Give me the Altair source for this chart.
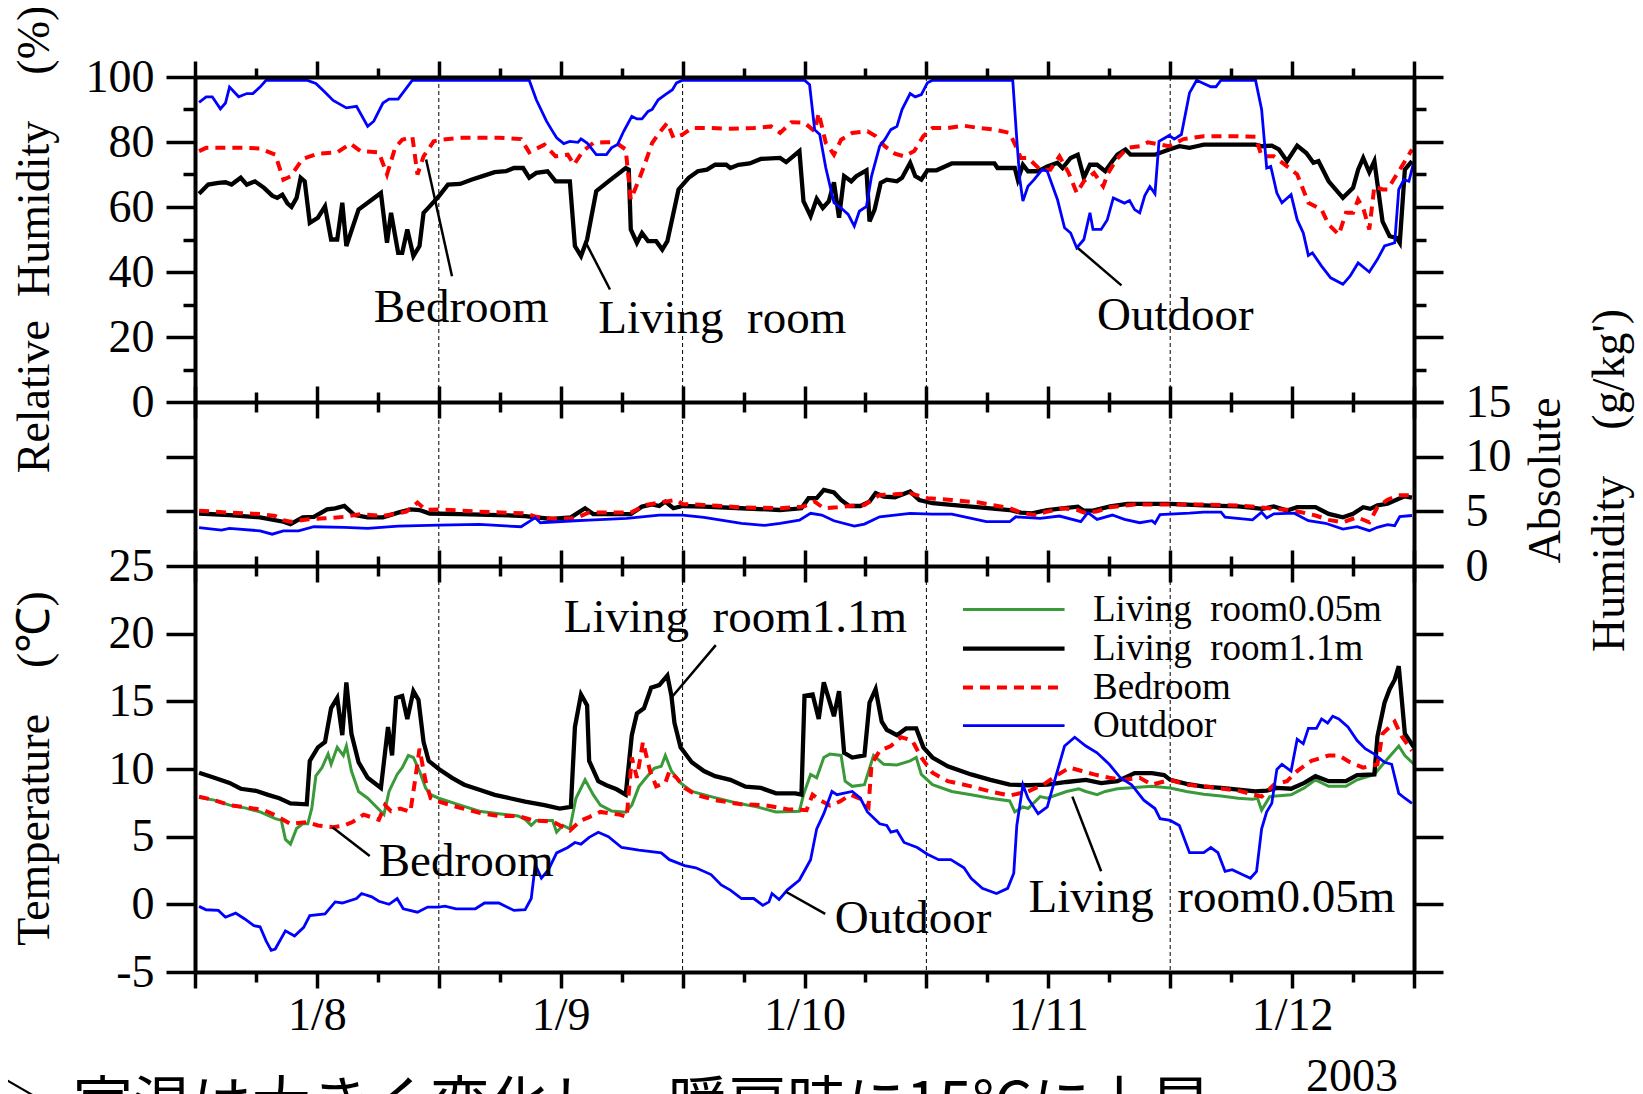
import json
import altair as alt
import pandas as pd

# ---------------- data ----------------
DAY_LABELS = ["1/8", "1/9", "1/10", "1/11", "1/12"]
MIDNIGHTS = [24, 48, 72, 96]
X_MAJOR = list(range(0, 121, 12))
X_MINOR = list(range(6, 120, 12))
RH_MAJOR = [0, 20, 40, 60, 80, 100]
RH_MINOR = [10, 30, 50, 70, 90]
AH_LEFT = [5, 10]
AH_RIGHT = [0, 5, 10, 15]
T_TICKS = [-5, 0, 5, 10, 15, 20, 25]

SERIES = ["Living\u2002room0.05m", "Living\u2002room1.1m", "Bedroom", "Outdoor"]

# Temperature (hour from 1/8 0:00, degC)
T_LR005 = [(0.4,7.9),(1.9,7.7),(3.4,7.33),(4.9,7.13),(6.4,6.83),(7.9,6.33),(8.5,6.2),(8.9,4.8),(9.4,4.45),(10.0,5.6),
 (10.6,5.95),(11.1,5.95),(11.5,7.1),(11.9,9.5),(12.5,10.1),(13.1,11.1),(13.4,10.35),(14.0,11.6),(14.6,11.0),(14.9,11.7),
 (15.4,9.85),(16.1,8.34),(17.0,7.84),(18.6,6.63),(19.1,8.34),(19.9,9.6),(20.4,10.1),(21.0,11.0),(21.5,10.85),(22.1,9.85),
 (22.7,8.6),(23.2,8.1),(24.0,7.84),(26.1,7.33),(28.0,6.88),(29.9,6.7),(31.8,6.53),(32.5,6.28),(33.1,5.83),(33.6,6.2),
 (35.2,6.2),(35.6,5.33),(36.2,5.83),(36.9,5.58),(37.5,7.84),(38.4,9.2),(39.2,8.1),(39.9,7.33),(41.0,6.9),(42.4,6.8),
 (43.0,7.33),(43.7,8.7),(44.4,9.35),(45.2,10.05),(45.9,10.2),(46.3,11.0),(46.9,9.85),(47.8,8.97),(48.9,8.34),(50.8,7.96),
 (53.1,7.53),(55.3,7.2),(57.2,6.83),(59.5,6.88),(59.9,8.1),(60.6,9.6),(61.2,9.35),(61.9,10.85),(62.5,11.1),(63.6,11.0),
 (64.0,9.1),(64.7,8.72),(65.9,8.84),(66.8,11.0),(67.8,10.35),(69.1,10.3),(70.4,10.6),(71.0,10.85),(71.5,9.6),(72.6,8.84),
 (74.5,8.34),(76.4,8.1),(78.3,7.84),(80.2,7.64),(80.7,6.83),(81.5,7.2),(82.0,7.08),(83.2,7.96),(83.9,7.84),(85.8,8.34),
 (87.0,8.54),(87.7,8.34),(88.8,8.1),(89.6,8.34),(90.8,8.54),(92.5,8.64),(94.2,8.72),(96.0,8.6),(97.6,8.34),(99.3,8.14),
 (101.0,8.01),(102.7,7.84),(104.1,7.76),(104.6,7.84),(105.0,6.96),(105.8,7.96),(107.9,8.1),(109.2,8.6),(110.3,9.2),(111.6,8.72),
 (113.3,8.72),(114.4,9.2),(116.1,9.6),(117.1,10.5),(118.5,11.7),(119.1,11.0),(120.0,10.35)]

T_LR11 = [(0.4,9.72),(1.9,9.35),(3.4,8.97),(4.5,8.54),(6.0,8.39),(7.2,8.09),(8.3,7.84),(9.4,7.46),(11.0,7.39),(11.3,10.6),
 (12.1,11.6),(12.8,12.0),(13.4,14.5),(14.0,15.25),(14.5,12.5),(14.9,16.4),(15.4,12.6),(16.1,10.5),(17.0,9.35),(18.3,8.6),
 (19.0,13.1),(19.4,11.0),(19.8,15.25),(20.4,15.4),(20.9,13.7),(21.5,15.75),(22.0,15.1),(22.5,12.0),(23.0,10.6),(24.0,10.0),
 (25.3,9.35),(26.5,8.84),(28.0,8.47),(29.5,8.09),(31.0,7.84),(32.5,7.59),(34.4,7.33),(35.9,7.08),(37.0,7.2),(37.4,13.1),
 (38.0,15.5),(38.6,14.7),(38.8,10.6),(39.7,9.1),(40.5,8.8),(41.5,8.5),(42.4,8.1),(43.0,12.5),(43.5,14.1),(44.2,14.5),
 (44.9,16.0),(45.7,16.2),(46.5,16.9),(46.9,15.4),(47.2,13.4),(47.8,11.6),(48.9,10.5),(50.1,9.85),(51.2,9.47),(52.7,9.2),
 (54.2,8.7),(55.7,8.6),(57.2,8.2),(59.1,8.2),(59.7,8.1),(60.0,15.4),(60.8,15.5),(61.4,13.7),(61.9,16.4),(62.9,13.9),
 (63.4,15.75),(63.9,11.2),(64.7,10.85),(65.9,11.0),(66.4,14.9),(67.0,15.9),(67.6,13.5),(68.1,12.9),(69.1,12.5),(70.0,13.0),
 (71.0,13.0),(71.7,11.6),(72.6,10.85),(74.1,10.2),(76.4,9.6),(78.3,9.2),(80.2,8.84),(82.0,8.8),(83.9,8.84),(85.8,9.04),
 (87.7,9.2),(89.2,8.96),(90.8,9.1),(92.5,9.7),(94.2,9.7),(95.4,9.55),(96.0,9.2),(97.6,8.9),(99.3,8.7),(101.0,8.6),
 (102.7,8.47),(104.4,8.34),(105.5,8.4),(106.5,8.6),(107.9,8.54),(109.2,8.97),(110.3,9.47),(111.6,9.1),(113.3,9.1),(114.4,9.55),
 (116.1,9.6),(116.4,12.4),(117.1,14.9),(117.6,15.9),(118.1,16.6),(118.5,17.6),(119.1,12.6),(120.0,11.6)]

T_BED = [(0.4,7.96),(1.9,7.7),(3.4,7.33),(5.3,7.13),(6.8,6.96),(7.9,6.58),(9.4,5.95),(11.0,6.08),(12.1,5.83),(13.6,5.7),
 (14.7,5.83),(15.5,6.08),(16.6,6.63),(18.1,6.25),(18.7,7.33),(19.3,6.88),(20.2,7.08),(21.2,6.83),(21.7,9.35),(22.1,11.5),
 (22.7,9.1),(23.2,7.84),(24.0,7.59),(26.1,7.13),(28.0,6.76),(29.9,6.53),(31.8,6.53),(33.3,6.2),(35.2,6.13),(36.9,5.45),
 (38.0,6.2),(38.8,6.45),(39.9,6.83),(41.8,6.63),(42.5,6.45),(43.0,10.85),(43.5,9.35),(44.1,12.0),(44.8,9.85),(45.4,8.72),
 (46.3,8.97),(46.7,9.85),(47.4,9.35),(48.2,8.6),(49.3,8.1),(51.2,7.7),(53.8,7.39),(56.1,7.33),(58.3,7.03),(60.2,6.96),
 (60.8,8.1),(61.5,7.7),(62.5,7.3),(63.5,7.6),(64.5,8.1),(65.5,7.8),(66.3,7.2),(66.6,10.35),(67.4,11.35),(68.5,11.7),
 (69.5,12.35),(70.6,12.1),(71.5,10.85),(72.6,9.72),(74.1,9.1),(76.4,8.72),(78.3,8.34),(80.2,8.04),(82.0,8.34),(83.5,8.84),
 (85.0,9.6),(86.1,10.1),(87.3,9.85),(88.5,9.6),(90.0,9.35),(91.5,9.2),(93.0,9.35),(94.2,8.84),(96.0,9.2),(97.6,8.84),
 (99.3,8.72),(102.7,8.4),(105.0,7.96),(106.2,8.84),(107.5,9.1),(108.5,9.85),(109.9,10.6),(111.6,11.0),(112.6,11.0),(113.7,10.5),
 (115.0,10.1),(116.4,10.35),(116.9,12.6),(117.6,13.1),(118.1,13.5),(118.8,12.4),(119.8,11.35)]

T_OUT = [(0.4,-0.15),(1.1,-0.4),(2.3,-0.45),(3.0,-0.95),(4.0,-0.65),(4.9,-1.08),(5.8,-1.58),(6.4,-1.66),(7.0,-2.7),(7.5,-3.4),
 (7.9,-3.3),(8.9,-1.96),(9.8,-2.34),(10.7,-1.7),(11.3,-0.83),(12.8,-0.7),(13.8,0.18),(14.5,0.1),(15.9,0.43),(16.4,0.8),
 (17.4,0.55),(18.1,0.23),(19.1,0.0),(19.9,0.43),(20.5,-0.33),(21.9,-0.58),(22.9,-0.2),(24.0,-0.2),(24.6,-0.13),(25.7,-0.33),
 (27.6,-0.33),(28.5,0.1),(29.9,0.1),(31.4,-0.45),(32.5,-0.4),(33.1,0.43),(33.5,2.94),(34.1,1.93),(34.8,2.56),(35.6,3.8),
 (36.7,4.2),(37.4,4.57),(38.0,4.45),(38.8,4.95),(39.7,5.33),(40.7,5.0),(42.0,4.2),(43.7,4.0),(45.9,3.8),(46.7,3.3),
 (48.2,2.86),(49.3,2.7),(50.8,2.2),(51.8,1.43),(52.7,1.05),(53.8,0.43),(55.0,0.43),(55.9,-0.08),(56.5,0.18),(56.8,0.8),
 (57.5,0.35),(58.3,1.05),(59.5,1.8),(60.6,3.3),(61.2,5.58),(61.9,6.7),(62.7,8.34),(63.2,8.1),(64.7,8.34),(65.5,7.84),
 (66.2,6.83),(67.4,5.95),(68.1,5.83),(68.5,5.33),(69.1,5.45),(69.8,4.57),(71.1,4.2),(72.1,3.7),(73.2,3.3),(74.4,3.3),
 (75.7,2.7),(76.4,1.93),(77.5,1.18),(78.9,0.8),(80.0,1.18),(80.6,2.3),(80.9,5.83),(81.5,8.84),(82.0,7.84),(83.0,6.7),
 (83.9,7.2),(84.7,9.35),(85.6,11.7),(86.6,12.35),(87.7,11.7),(88.8,11.2),(90.0,10.35),(91.1,9.35),(92.2,8.84),(93.4,7.7),
 (94.5,7.08),(95.0,6.33),(96.0,6.2),(96.9,5.83),(97.9,3.82),(99.3,3.82),(100.0,4.2),(100.7,3.82),(101.4,2.44),(102.1,2.56),
 (103.1,2.2),(103.9,1.93),(104.5,2.44),(105.0,5.58),(105.5,6.83),(106.0,7.46),(106.5,9.97),(107.0,10.35),(107.9,9.85),(108.5,12.2),
 (109.1,11.86),(109.6,13.0),(110.4,13.0),(110.9,13.7),(111.5,13.4),(112.0,13.9),(112.6,13.7),(113.5,13.1),(114.4,12.1),(115.2,11.5),
 (116.1,11.1),(117.1,10.5),(117.8,10.35),(118.5,8.2),(119.1,7.84),(119.8,7.46)]

# Relative humidity (%)
RH_LR = [(0.4,64.1),(1.3,66.9),(2.3,67.4),(3.0,67.6),(3.6,66.9),(4.5,69.0),(5.1,66.9),(5.9,67.9),(6.8,65.9),(7.6,63.5),
 (8.1,62.8),(8.6,63.8),(9.1,61.1),(9.5,60.0),(10.0,62.8),(10.4,69.0),(10.8,67.9),(11.3,55.1),(12.1,56.7),(12.8,60.2),
 (13.4,50.0),(14.0,50.0),(14.5,61.3),(14.9,48.0),(16.1,59.2),(18.3,64.3),(18.9,49.0),(19.3,58.2),(20.0,45.9),(20.4,45.9),
 (20.9,53.1),(21.5,44.9),(22.1,48.0),(22.5,58.2),(23.1,60.2),(24.0,63.3),(24.9,66.9),(26.1,67.1),(27.2,68.4),(28.3,69.5),
 (29.5,70.7),(30.6,71.0),(31.4,72.0),(32.3,72.0),(32.9,69.0),(33.6,70.5),(34.7,71.0),(35.5,67.9),(36.9,67.9),(37.4,48.0),
 (38.0,44.9),(38.6,50.0),(39.5,64.9),(40.7,67.9),(42.4,72.0),(42.7,71.5),(42.9,53.1),(43.5,49.0),(44.0,52.0),(44.6,49.5),
 (45.4,49.5),(46.0,46.9),(46.5,49.5),(47.6,65.4),(48.6,69.0),(49.5,71.0),(50.4,71.5),(51.2,73.0),(52.3,73.0),(52.7,72.0),
 (53.5,73.0),(54.6,73.4),(55.7,74.8),(57.6,75.1),(58.2,73.8),(59.5,77.2),(59.9,61.8),(60.6,57.2),(61.2,62.5),(61.8,59.7),
 (62.4,61.8),(62.9,67.6),(63.4,56.7),(63.9,69.5),(64.6,67.9),(65.1,69.5),(66.1,71.3),(66.4,55.6),(66.9,59.2),(67.5,67.4),
 (68.1,68.4),(69.1,67.9),(69.6,69.0),(70.4,73.6),(70.9,69.5),(71.5,68.4),(72.1,71.3),(73.0,71.3),(74.5,73.4),(78.7,73.4),
 (79.0,72.0),(80.7,72.0),(81.0,68.4),(81.5,73.0),(82.0,71.0),(83.0,71.0),(83.9,72.5),(84.9,73.6),(85.4,72.0),(86.2,75.1),
 (86.9,76.1),(87.5,69.0),(88.1,73.0),(88.8,73.0),(89.6,71.0),(90.3,74.1),(90.8,76.1),(91.6,77.7),(92.1,76.1),(94.5,76.1),
 (95.9,77.7),(96.9,78.7),(97.9,78.2),(98.6,78.7),(99.3,79.2),(104.4,79.2),(105.0,78.7),(106.0,78.9),(106.7,77.7),(107.5,74.1),
 (108.5,78.9),(109.4,76.6),(110.1,73.6),(110.6,74.1),(111.6,67.9),(113.0,62.8),(114.0,65.9),(114.5,71.5),(115.0,75.1),(115.6,70.7),
 (116.1,74.1),(116.9,55.6),(117.6,51.0),(118.3,50.5),(118.6,49.0),(119.1,71.5),(119.8,74.1)]

RH_BED = [(0.4,77.2),(1.1,78.2),(2.6,78.2),(4.9,78.2),(6.4,78.0),(7.9,76.1),(8.7,68.4),(9.4,69.4),(10.6,74.8),(12.1,76.4),
 (14.0,76.8),(15.3,79.5),(16.3,77.2),(18.1,76.8),(18.9,70.0),(19.7,78.2),(20.4,80.7),(21.4,81.6),(21.9,70.0),(22.5,75.6),
 (23.5,80.2),(24.2,80.7),(26.1,81.3),(29.9,81.3),(32.1,80.9),(32.9,76.8),(34.4,79.2),(35.5,75.6),(36.7,76.1),(37.3,73.0),
 (38.2,77.2),(39.2,79.7),(40.3,79.9),(41.4,79.9),(42.4,77.7),(42.9,62.3),(43.7,68.4),(44.2,72.5),(45.0,79.7),(45.7,82.8),
 (46.5,85.9),(47.1,81.3),(48.0,82.3),(48.9,84.3),(50.8,84.3),(52.7,84.1),(55.0,84.3),(56.7,84.8),(57.6,82.8),(58.7,86.1),
 (60.0,85.9),(61.0,83.3),(61.4,88.9),(62.1,79.7),(62.9,76.1),(63.6,80.7),(64.7,82.8),(66.2,83.3),(67.0,81.8),(67.9,78.7),
 (68.9,76.4),(69.8,75.6),(70.8,77.2),(71.7,81.8),(72.6,84.3),(74.1,84.3),(75.7,85.0),(77.2,84.3),(78.7,83.8),(80.2,82.8),
 (80.8,78.7),(81.3,75.1),(82.0,75.1),(83.2,71.5),(84.2,71.5),(85.1,75.6),(86.0,70.5),(86.8,64.3),(87.5,67.9),(88.5,70.5),
 (89.4,66.4),(89.9,70.5),(90.7,74.6),(91.8,78.2),(93.0,78.7),(93.8,79.9),(95.9,78.7),(97.3,80.9),(99.3,81.8),(102.1,81.8),
 (104.4,81.6),(105.0,75.6),(106.2,75.6),(107.5,72.5),(108.5,70.0),(109.6,61.3),(110.9,59.2),(111.6,54.6),(112.6,51.5),(113.3,58.2),
 (114.0,58.2),(114.5,62.3),(115.0,59.7),(115.6,53.1),(116.1,66.4),(116.9,65.4),(117.4,65.4),(118.1,69.0),(118.8,72.5),(119.8,77.7)]

RH_OUT = [(0.4,92.2),(1.1,93.9),(1.7,93.9),(2.5,90.2),(3.0,92.0),(3.4,96.9),(4.3,93.9),(5.1,94.9),(5.7,94.9),(6.4,96.9),
 (7.0,99.0),(11.0,99.0),(11.9,98.0),(12.7,95.6),(13.6,92.8),(14.9,90.5),(15.9,91.0),(17.0,84.8),(17.6,86.4),(18.5,92.0),
 (19.1,93.2),(20.0,93.2),(21.4,99.0),(32.9,99.0),(33.6,93.0),(34.6,86.4),(35.1,83.8),(35.6,81.3),(36.3,79.5),(36.9,80.2),
 (37.7,79.9),(38.0,81.0),(38.6,79.7),(39.5,76.1),(40.5,76.1),(41.0,78.2),(41.6,79.2),(42.2,83.3),(43.0,87.9),(43.5,87.1),
 (44.0,87.1),(44.6,89.4),(45.0,90.0),(45.6,93.0),(46.3,94.6),(47.0,96.1),(47.4,98.2),(48.0,99.0),(60.0,99.0),(60.5,97.6),
 (61.0,83.8),(61.5,82.3),(62.1,72.0),(62.9,61.3),(63.6,59.7),(64.3,57.7),(64.9,54.1),(65.4,58.7),(66.1,60.2),(66.6,69.5),
 (67.4,78.7),(67.9,80.7),(68.5,83.8),(69.1,84.8),(69.6,90.0),(70.4,94.9),(70.9,93.9),(71.5,94.6),(72.1,98.2),(72.6,99.0),
 (80.5,99.0),(80.9,80.7),(81.2,68.4),(81.5,61.8),(82.0,66.4),(82.6,68.4),(83.4,71.5),(83.9,71.0),(84.9,62.3),(85.6,53.6),
 (86.2,52.0),(86.8,47.4),(87.5,50.0),(88.1,58.2),(88.4,53.1),(89.2,53.1),(89.8,56.0),(90.4,62.8),(91.5,61.2),(92.0,62.0),
 (92.5,59.2),(93.0,58.2),(93.5,63.5),(94.0,66.3),(94.5,64.1),(94.9,80.2),(95.9,82.0),(96.4,80.9),(97.1,82.3),(97.9,95.1),
 (98.6,99.0),(100.0,97.0),(100.5,97.0),(101.0,99.0),(104.4,99.0),(105.0,90.0),(105.5,72.0),(105.9,72.5),(106.5,64.3),(107.0,61.3),
 (107.9,63.8),(108.5,56.1),(109.1,52.0),(109.6,45.1),(110.0,45.9),(110.9,41.8),(111.8,38.2),(113.0,36.2),(113.7,38.7),(114.5,42.8),
 (115.6,40.0),(116.4,43.9),(117.1,48.0),(118.1,49.0),(118.5,65.4),(119.0,68.4),(119.5,67.9),(120.0,74.1)]

# Absolute humidity (g/kg')
AH_LR = [(0.4,4.8),(3.4,4.66),(6.4,4.45),(8.7,4.05),(9.4,3.83),(10.6,4.45),(11.7,4.5),(13.0,5.18),(13.8,5.28),(14.7,5.49),
 (15.7,4.66),(17.0,4.45),(18.5,4.45),(20.0,4.88),(21.2,5.18),(22.1,5.12),(23.1,4.8),(26.1,4.75),(29.9,4.66),(32.5,4.57),
 (33.6,4.45),(35.1,4.3),(37.0,4.45),(38.4,5.28),(39.2,4.75),(42.9,4.75),(44.0,5.43),(45.0,5.64),(45.7,5.49),(46.3,5.89),
 (47.1,5.28),(48.0,5.49),(50.1,5.43),(53.8,5.28),(57.6,5.12),(59.7,5.28),(60.4,6.2),(61.2,6.2),(61.9,6.96),(62.9,6.72),
 (63.6,6.04),(64.4,5.49),(65.5,5.49),(66.4,5.89),(67.0,6.66),(67.8,6.35),(68.9,6.29),(70.4,6.81),(71.3,6.04),(72.6,5.74),
 (76.4,5.43),(80.2,5.12),(81.3,4.88),(82.4,4.82),(83.9,5.12),(85.4,5.28),(86.9,5.43),(87.5,5.06),(88.4,5.06),(90.1,5.45),
 (91.8,5.69),(96.0,5.69),(99.3,5.54),(102.7,5.45),(105.1,5.23),(106.2,5.45),(107.5,5.08),(108.5,5.38),(110.3,5.38),(111.6,4.77),
 (113.0,4.46),(114.0,4.77),(115.0,5.38),(115.7,5.23),(116.4,5.54),(117.4,5.69),(118.5,6.15),(119.1,6.37),(119.8,6.25)]

AH_BED = [(0.4,5.06),(3.4,4.88),(6.4,4.75),(7.9,4.57),(8.7,4.2),(9.4,4.05),(11.0,4.26),(12.8,4.36),(14.7,4.5),(16.3,4.75),
 (18.5,4.57),(20.8,4.97),(21.9,5.8),(22.7,5.12),(24.0,5.18),(28.0,4.97),(32.5,4.82),(33.6,4.5),(35.5,4.3),(37.4,4.36),
 (38.8,4.9),(42.9,4.88),(44.4,5.58),(46.3,5.89),(47.4,6.04),(48.0,5.67),(50.1,5.58),(53.8,5.37),(57.6,5.28),(59.9,5.43),
 (61.0,5.89),(61.9,5.28),(63.2,5.37),(64.4,5.49),(65.9,5.58),(67.4,6.5),(68.9,6.56),(70.4,6.66),(72.1,6.2),(74.5,6.04),
 (77.2,5.8),(80.2,5.28),(81.3,4.88),(82.6,4.66),(83.9,4.97),(85.4,5.28),(86.9,5.12),(87.7,4.82),(88.8,5.0),(90.1,5.38),
 (92.5,5.63),(96.0,5.63),(99.3,5.63),(102.7,5.54),(104.8,5.38),(106.2,5.23),(107.5,5.14),(108.9,4.92),(110.3,4.62),(111.6,4.22),
 (113.0,4.0),(114.4,4.46),(115.6,4.0),(116.4,5.38),(117.4,6.06),(118.5,6.46),(119.8,6.46)]

AH_OUT = [(0.4,3.5),(2.6,3.28),(3.4,3.44),(6.4,3.22),(7.6,2.91),(8.7,3.22),(10.2,3.22),(11.7,3.59),(14.7,3.53),(17.0,3.44),
 (20.0,3.65),(24.0,3.74),(28.0,3.8),(32.1,3.59),(33.5,4.42),(34.0,3.96),(37.4,4.14),(38.8,4.2),(42.5,4.36),(45.7,4.66),
 (48.0,4.66),(50.1,4.45),(53.8,3.9),(56.1,3.71),(57.6,3.9),(59.5,4.2),(60.6,4.82),(61.7,4.66),(62.9,4.14),(64.9,3.65),
 (65.9,3.83),(67.4,4.5),(70.4,4.82),(72.6,4.75),(74.5,4.75),(77.9,4.05),(80.2,4.05),(80.8,4.5),(83.2,4.36),(85.1,4.57),
 (87.2,4.05),(87.9,4.88),(88.8,4.26),(90.3,4.66),(91.5,4.26),(93.0,3.96),(94.2,4.15),(94.5,3.91),(95.0,4.71),(97.9,4.83),
 (99.3,4.92),(101.0,4.92),(101.4,4.46),(104.1,4.22),(105.0,4.92),(105.5,4.4),(106.2,4.77),(108.2,4.83),(109.6,4.15),(111.3,3.91),
 (113.0,3.38),(114.4,3.6),(115.6,3.23),(116.4,3.54),(117.4,3.78),(118.1,3.69),(118.6,4.52),(119.8,4.62)]

# annotations: (label, hour, value) and leader lines (h1, v1, h2, v2)
ANNOT_RH = [("Bedroom", 26.2, 24.6), ("Living\u2002room", 51.9, 21.3), ("Outdoor", 96.5, 22.3)]
LEAD_RH = [(22.75, 74.6, 25.3, 38.7), (38.4, 49.5, 40.85, 34.6), (86.9, 47.4, 91.2, 35.9)]
ANNOT_T = [("Living\u2002room1.1m", 53.2, 20.15), ("Bedroom", 26.7, 2.06), ("Outdoor", 70.7, -2.09),
           ("Living\u2002room0.05m", 100.1, -0.58)]
LEAD_T = [(46.87, 15.25, 51.27, 19.15), (13.53, 5.7, 17.2, 3.57), (58.16, 0.93, 62.04, -0.7), (86.37, 7.96, 89.2, 2.44)]
LEGEND_ROWS_T = [21.78, 18.90, 16.02, 13.20]
LEGEND_LINE_H = (75.6, 85.6)
LEGEND_TEXT_H = 88.4
YEAR_TEXT = ("2003", 113.9, -12.73)
NOTE_TEXT = [("\u25b7", -19.9, -12.8), ("室温は大きく変化し、暖房時に15°Cに上昇", -12.0, -12.8)]

# ---------------- layout / style ----------------
W, H = 1219, 895
Y_RH0, Y_AH0 = 325, 489          # pixel rows of the panel boundaries
FONT = "Liberation Serif"
STYLES = {
    SERIES[0]: dict(color="#3a9a3a", strokeWidth=3.0),
    SERIES[1]: dict(color="#000000", strokeWidth=4.3),
    SERIES[2]: dict(color="#ff0000", strokeWidth=4.0, strokeDash=[10, 7]),
    SERIES[3]: dict(color="#0000ff", strokeWidth=2.8),
}

X_SCALE = alt.Scale(domain=[0, 120], nice=False, zero=False)
RH_SCALE = alt.Scale(domain=[100 - H * 100 / Y_RH0, 100], nice=False, zero=False)
ah_px = 15 / (Y_AH0 - Y_RH0)
AH_SCALE = alt.Scale(domain=[-(H - Y_AH0) * ah_px, 15 + Y_RH0 * ah_px], nice=False, zero=False)
t_px = 30 / (H - Y_AH0)
T_SCALE = alt.Scale(domain=[-5, 25 + Y_AH0 * t_px], nice=False, zero=False)


def df_of(pairs):
    return pd.DataFrame(pairs, columns=["h", "v"])


def line_layer(pairs, series, yscale):
    return alt.Chart(df_of(pairs)).mark_line(strokeJoin="miter", **STYLES[series]).encode(
        x=alt.X("h:Q", scale=X_SCALE, axis=None),
        y=alt.Y("v:Q", scale=yscale, axis=None),
    )


def text_layer(items, yscale, size=47, align="center", baseline="alphabetic", font=FONT):
    df = pd.DataFrame(items, columns=["label", "h", "v"])
    return alt.Chart(df).mark_text(font=font, fontSize=size, align=align, baseline=baseline,
                                   color="black").encode(
        x=alt.X("h:Q", scale=X_SCALE, axis=None),
        y=alt.Y("v:Q", scale=yscale, axis=None),
        text="label:N",
    )


def leader_layer(items, yscale):
    df = pd.DataFrame(items, columns=["h1", "v1", "h2", "v2"])
    return alt.Chart(df).mark_rule(color="black", strokeWidth=2.5).encode(
        x=alt.X("h1:Q", scale=X_SCALE, axis=None), x2="h2:Q",
        y=alt.Y("v1:Q", scale=yscale, axis=None), y2="v2:Q",
    )


def xaxis(orient, values, size, offset=0, domain=False, labels=False, label_expr=None):
    kw = dict(orient=orient, values=values, tickSize=size, offset=offset, domain=domain, labels=labels,
              title=None, grid=False, tickColor="black", tickWidth=3.5, domainColor="black",
              domainWidth=4, zindex=2, labelFont=FONT, labelFontSize=46, labelColor="black",
              labelPadding=5, labelOverlap=False, labelFlush=False, labelBound=False)
    if label_expr:
        kw["labelExpr"] = label_expr
    return alt.Axis(**kw)


def yaxis(orient, values, size, domain=False, labels=False, pad=12, label_expr=None,
          title=None, tx=0, ty=0):
    kw = dict(orient=orient, values=values, tickSize=size, domain=domain, labels=labels,
              grid=False, tickColor="black", tickWidth=3.5, domainColor="black", domainWidth=4,
              zindex=2, labelFont=FONT, labelFontSize=46, labelColor="black", labelPadding=pad,
              labelOverlap=False, labelFlush=False, labelBound=False, title=title)
    if label_expr:
        kw["labelExpr"] = label_expr
    if title is not None:
        kw.update(titleX=tx, titleY=ty, titleAngle=270, titleAlign="center", titleBaseline="middle",
                  titleFont=FONT, titleFontSize=46, titleFontWeight="normal", titleColor="black",
                  titleLineHeight=64)
    return alt.Axis(**kw)


HOST = pd.DataFrame({"h": [0.0], "v": [0.0]})


def host(xax=None, yax=None, yscale=T_SCALE):
    return alt.Chart(HOST).mark_point(opacity=0, size=1).encode(
        x=alt.X("h:Q", scale=X_SCALE, axis=xax),
        y=alt.Y("v:Q", scale=yscale, axis=yax),
    )


day_expr = "datum.value % 24 === 12 ? " + json.dumps(DAY_LABELS) + "[floor(datum.value / 24)] : ''"
plain_num = "'' + datum.value"

hosts = [
    host(xaxis("top", X_MAJOR, 16, 0, domain=True),
         yaxis("left", RH_MAJOR, 29, domain=True, labels=True, pad=12,
               title="Relative\u2002Humidity\u2003(%)", tx=-161, ty=162), RH_SCALE),
    host(xaxis("top", X_MINOR, 9, 0), yaxis("left", RH_MINOR, 12), RH_SCALE),
    host(xaxis("top", X_MAJOR, 16, -Y_RH0, domain=True), yaxis("left", AH_LEFT, 29), AH_SCALE),
    host(xaxis("top", X_MINOR, 10, -Y_RH0),
         yaxis("left", T_TICKS, 29, labels=True, pad=12, label_expr=plain_num,
               title="Temperature\u2003(\u2103)", tx=-161, ty=691), T_SCALE),
    host(xaxis("bottom", X_MAJOR, 16, -(H - Y_RH0)),
         yaxis("right", RH_MAJOR, 29, domain=True), RH_SCALE),
    host(xaxis("bottom", X_MINOR, 10, -(H - Y_RH0)), yaxis("right", RH_MINOR, 12), RH_SCALE),
    host(xaxis("top", X_MAJOR, 16, -Y_AH0, domain=True),
         yaxis("right", AH_RIGHT, 29, labels=True, pad=22,
               title=["Absolute", "Humidity\u2003(g/kg')"], tx=131, ty=403), AH_SCALE),
    host(xaxis("top", X_MINOR, 10, -Y_AH0), yaxis("right", T_TICKS, 29), T_SCALE),
    host(xaxis("bottom", X_MAJOR, 16, -(H - Y_AH0))),
    host(xaxis("bottom", X_MINOR, 10, -(H - Y_AH0))),
    host(xaxis("bottom", X_MAJOR, 16, 0, domain=True, labels=True, label_expr=day_expr)),
    host(xaxis("bottom", X_MINOR, 10, 0)),
]

midnight = alt.Chart(pd.DataFrame({"h": MIDNIGHTS})).mark_rule(
    color="black", strokeWidth=1, strokeDash=[4, 3]).encode(
    x=alt.X("h:Q", scale=X_SCALE, axis=None))

lines = [
    line_layer(RH_LR, SERIES[1], RH_SCALE), line_layer(RH_BED, SERIES[2], RH_SCALE),
    line_layer(RH_OUT, SERIES[3], RH_SCALE),
    line_layer(AH_LR, SERIES[1], AH_SCALE), line_layer(AH_BED, SERIES[2], AH_SCALE),
    line_layer(AH_OUT, SERIES[3], AH_SCALE),
    line_layer(T_LR005, SERIES[0], T_SCALE), line_layer(T_LR11, SERIES[1], T_SCALE),
    line_layer(T_BED, SERIES[2], T_SCALE), line_layer(T_OUT, SERIES[3], T_SCALE),
]

legend_lines = []
for s, tv in zip(SERIES, LEGEND_ROWS_T):
    d = pd.DataFrame({"h1": [LEGEND_LINE_H[0]], "h2": [LEGEND_LINE_H[1]], "v": [tv]})
    legend_lines.append(alt.Chart(d).mark_rule(**STYLES[s]).encode(
        x=alt.X("h1:Q", scale=X_SCALE, axis=None), x2="h2:Q",
        y=alt.Y("v:Q", scale=T_SCALE, axis=None)))
legend_text = text_layer([(s, LEGEND_TEXT_H, tv) for s, tv in zip(SERIES, LEGEND_ROWS_T)],
                         T_SCALE, size=37, align="left", baseline="middle")

annots = [
    leader_layer(LEAD_RH, RH_SCALE), text_layer(ANNOT_RH, RH_SCALE),
    leader_layer(LEAD_T, T_SCALE), text_layer(ANNOT_T, T_SCALE),
    text_layer([YEAR_TEXT], T_SCALE, size=46, baseline="middle"),
    text_layer(NOTE_TEXT, T_SCALE, size=59.5, align="left", baseline="top", font="Noto Sans CJK JP"),
]

chart = alt.layer(midnight, *lines, *legend_lines, legend_text, *annots, *hosts).resolve_scale(
    y="independent").resolve_axis(x="independent", y="independent").properties(
    width=W, height=H, autosize=alt.AutoSizeParams(type="none"),
    padding={"left": 187, "top": 69, "right": 221, "bottom": 150},
    background="white",
).configure_view(stroke=None)

chart.save("out.html", embed_options={"renderer": "svg", "actions": False})
